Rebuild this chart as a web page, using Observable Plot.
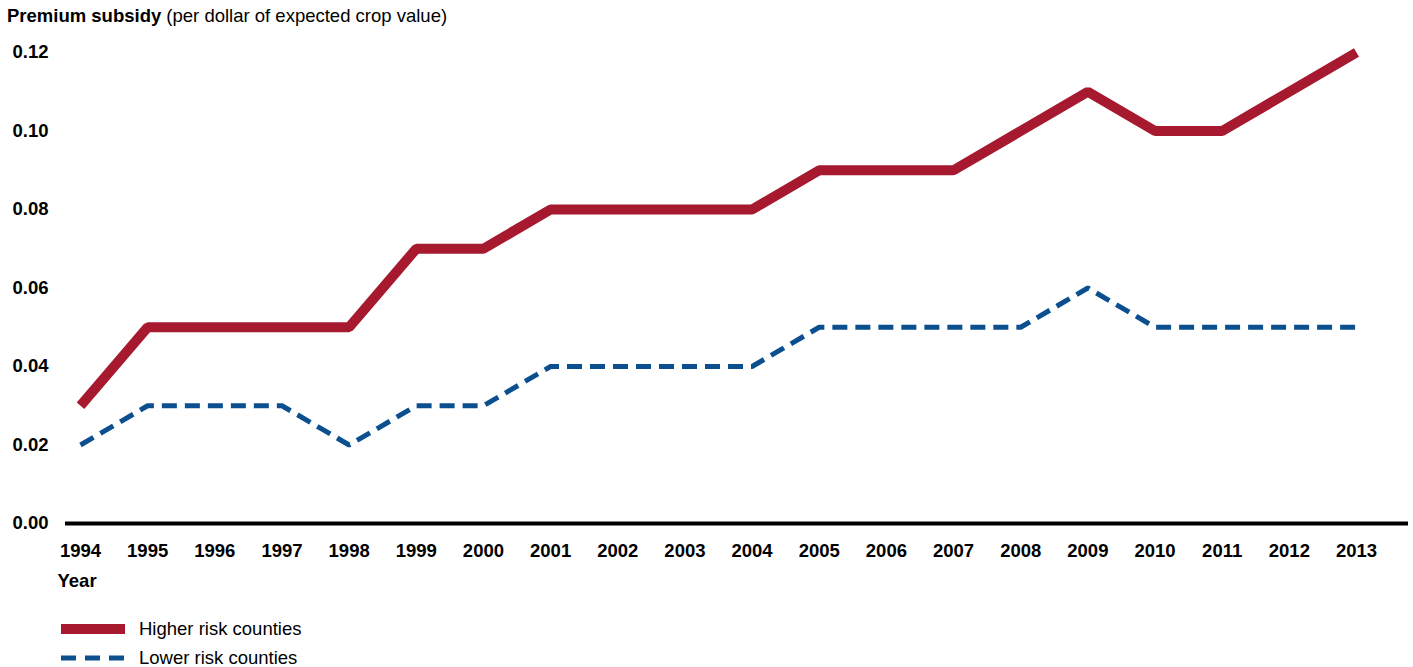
<!DOCTYPE html>
<html>
<head>
<meta charset="utf-8">
<script src="https://cdn.jsdelivr.net/npm/d3@7"></script>
<script src="https://cdn.jsdelivr.net/npm/@observablehq/plot@0.6"></script>
<style>
  body { margin: 0; background: #fff; font-family: "Liberation Sans", Arial, sans-serif; color: #000; }
  #wrap { position: relative; width: 1413px; height: 667px; }
  #title { position: absolute; left: 7px; top: 5px; font-size: 18.5px; white-space: nowrap; }
  #chart { position: absolute; left: 0; top: 32px; }
  #legend { position: absolute; left: 61px; top: 614px; font-size: 18.5px; }
  .item { display: flex; align-items: center; height: 29px; }
  .item svg { margin-right: 14px; }
</style>
</head>
<body>
<div id="wrap">
  <div id="title"><b>Premium subsidy</b> (per dollar of expected crop value)</div>
  <div id="chart"></div>
  <div id="legend"></div>
</div>
<script>
const years = [1994,1995,1996,1997,1998,1999,2000,2001,2002,2003,2004,2005,2006,2007,2008,2009,2010,2011,2012,2013];
const higherRisk = [0.03,0.05,0.05,0.05,0.05,0.07,0.07,0.08,0.08,0.08,0.08,0.09,0.09,0.09,0.10,0.11,0.10,0.10,0.11,0.12];
const lowerRisk  = [0.02,0.03,0.03,0.03,0.02,0.03,0.03,0.04,0.04,0.04,0.04,0.05,0.05,0.05,0.05,0.06,0.05,0.05,0.05,0.05];
const yTicks = [0, 0.02, 0.04, 0.06, 0.08, 0.10, 0.12];
const seriesNames = ["Higher risk counties", "Lower risk counties"];

const red = "#a6192e";
const blue = "#0b4f8f";

const higherData = years.map((y, i) => ({year: y, value: higherRisk[i]}));
const lowerData = years.map((y, i) => ({year: y, value: lowerRisk[i]}));

const chart = Plot.plot({
  width: 1413,
  height: 570,
  marginLeft: 80,
  marginRight: 57,
  marginTop: 20,
  marginBottom: 79,
  style: { fontFamily: "Liberation Sans, Arial, sans-serif", background: "#fff" },
  x: { domain: [1994, 2013], ticks: years, tickFormat: d => String(d), tickSize: 0, tickPadding: 21, label: null },
  y: { domain: [0, 0.12], ticks: yTicks, tickFormat: d3.format(".2f"), tickSize: 0, tickPadding: 32, label: null },
  marks: [
    Plot.axisY({ ticks: yTicks, tickFormat: d3.format(".2f"), tickSize: 0, tickPadding: 32, fontSize: 18.5, fontWeight: "bold", label: null }),
    Plot.axisX({ ticks: years, tickFormat: d => String(d), tickSize: 0, tickPadding: 20, fontSize: 18.5, fontWeight: "bold", label: null }),
    Plot.ruleY([0], { stroke: "#000", strokeWidth: 4, insetLeft: -15, insetRight: -52 }),
    Plot.line(lowerData, { x: "year", y: "value", stroke: blue, strokeWidth: 5, strokeDasharray: "15,8", strokeLinejoin: "miter", strokeLinecap: "butt" }),
    Plot.line(higherData, { x: "year", y: "value", stroke: red, strokeWidth: 10, strokeLinejoin: "miter", strokeLinecap: "butt" }),
    Plot.text(["Year"], { frameAnchor: "bottom-left", dx: -23, dy: 63, textAnchor: "start", fontWeight: "bold", fontSize: 18.5, fill: "#000" })
  ]
});
document.getElementById("chart").appendChild(chart);

const legend = document.getElementById("legend");
const styles = [
  { stroke: red, width: 10, dash: null },
  { stroke: blue, width: 5, dash: "15,9" }
];
seriesNames.forEach((name, i) => {
  const s = styles[i];
  const item = document.createElement("div");
  item.className = "item";
  item.innerHTML = `<svg width="64" height="12"><line x1="0" x2="64" y1="6" y2="6" stroke="${s.stroke}" stroke-width="${s.width}" ${s.dash ? `stroke-dasharray="${s.dash}"` : ""}/></svg><span>${name}</span>`;
  legend.appendChild(item);
});
</script>
</body>
</html>
